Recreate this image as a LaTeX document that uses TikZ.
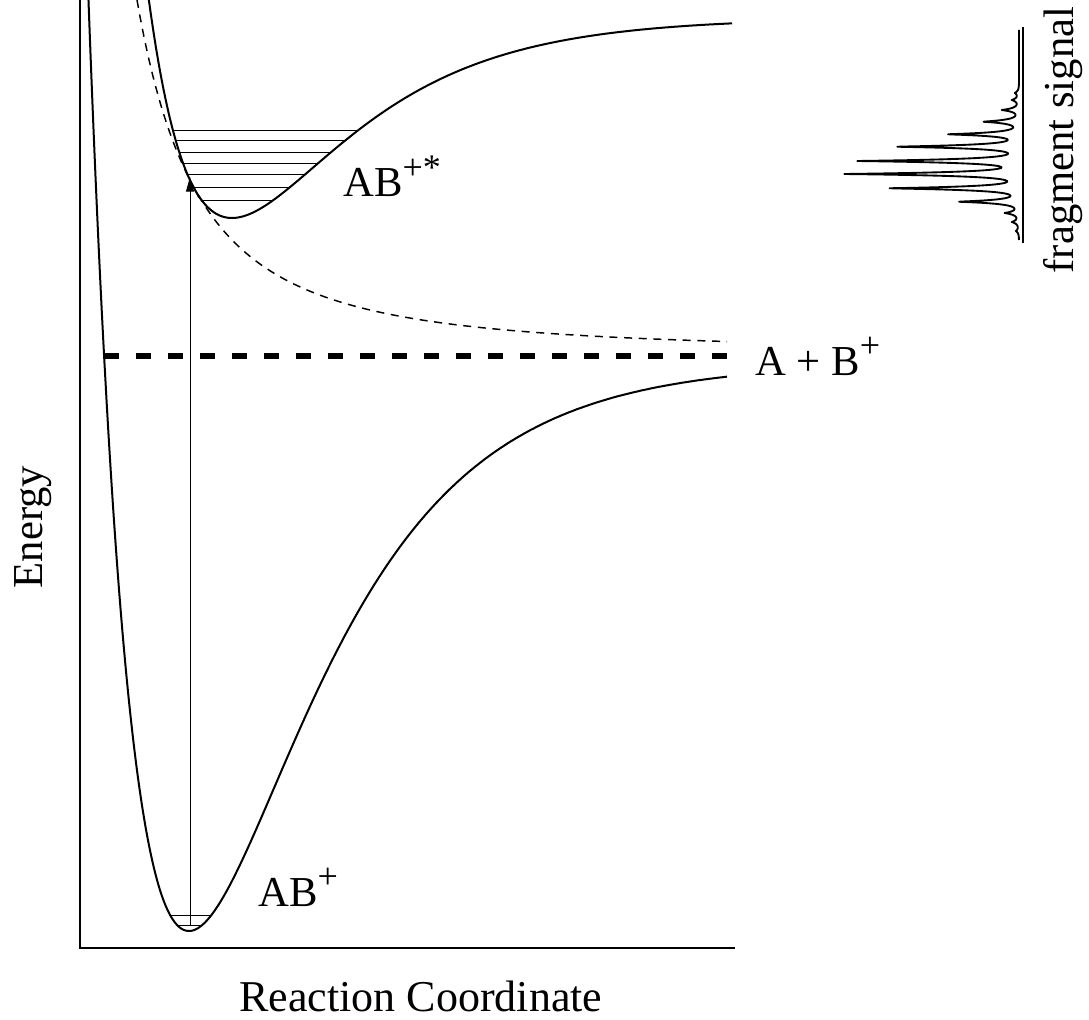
\documentclass[tikz,border=0pt]{standalone}
\usepackage{fontspec}
\setmainfont{Liberation Serif}
\usetikzlibrary{arrows.meta}
\newcommand{\supx}[1]{\raisebox{0.40em}{\fontsize{27}{27}\selectfont #1}}
\begin{document}
\begin{tikzpicture}[x=0.75pt,y=-0.75pt,
  axisline/.style={line width=2.2pt},
  curve/.style={line width=1.5pt},
  level/.style={line width=0.7pt},
  limitline/.style={line width=4.5pt, dash pattern=on 11.25pt off 12.75pt},
  repulsive/.style={line width=1.1pt, dash pattern=on 6pt off 5pt},
  excite/.style={line width=0.7pt, -{Triangle[length=11pt,width=6pt]}},
  trace/.style={line width=1.4pt, line join=round},
  lbl/.style={font=\fontsize{32}{38}\selectfont, inner sep=0pt},
  declare function={L(\t,\c)=exp(-min(40,abs(\t-\c))/2.2);}
]
\useasboundingbox (0,0) rectangle (1089,1020);

% axes
\coordinate (ytop) at (80,0);
\coordinate (origin) at (80,948);
\coordinate (xend) at (735,948);
\draw[axisline] (ytop) -- (origin) -- (xend);

% lower (bound) potential AB+
\draw[curve] plot[domain=0:880, samples=160] ({189 - ln(1+sqrt((931-\x)/568))/0.0082}, \x)
  -- plot[domain=157.05:727, samples=260] (\x, {931-568*(1-exp(-0.0082*(\x-189)))^2});

% upper (excited) potential AB+*
\draw[curve] plot[domain=0:190, samples=80] ({232 - ln(1+sqrt((218-\x)/200))/0.0086}, \x)
  -- plot[domain=195.03:732, samples=260] (\x, {218-200*(1-exp(-0.0086*(\x-232)))^2});

% repulsive state
\draw[repulsive] plot[domain=137:727, samples=200] (\x, {352-352*((123)/(\x-14))^2});

% dissociation limit
\coordinate (limA) at (104,356);
\coordinate (limB) at (727,356);
\draw[limitline] (limA) -- (limB);

% vibrational levels, upper well
\foreach \yv in {130,140.7,152,163.3,174.7,187.7,200} {
  \pgfmathsetmacro\s{sqrt((218-\yv)/200)}
  \pgfmathsetmacro\xl{232-ln(1+\s)/0.0086}
  \pgfmathsetmacro\xr{232-ln(1-\s)/0.0086}
  \draw[level] (\xl,\yv) -- (\xr,\yv);
}
% vibrational levels, lower well
\foreach \yv in {915,925} {
  \pgfmathsetmacro\s{sqrt((931-\yv)/568)}
  \pgfmathsetmacro\xl{189-ln(1+\s)/0.0082}
  \pgfmathsetmacro\xr{189-ln(1-\s)/0.0082}
  \draw[level] (\xl,\yv) -- (\xr,\yv);
}

% excitation arrow
\coordinate (exbase) at (190,926);
\coordinate (extip) at (190,177);
\draw[excite] (exbase) -- (extip);

% fragment signal spectrum
\draw[line width=1.3pt] (1023,27) -- (1023,243);
\draw[trace] plot[domain=30:240, samples=841]
  ({1019 - (4*L(\x,93)+7*L(\x,100)+17*L(\x,110)+36*L(\x,121.7)+72*L(\x,134.3)+124*L(\x,146.7)+161*L(\x,161)+174*L(\x,174)+132*L(\x,188.3)+61*L(\x,201.7)+14*L(\x,213)+7*L(\x,222)+3*L(\x,231))}, \x);

% labels
\node[lbl, anchor=base west] (abstar) at (343,197) {AB\supx{+*}};
\node[lbl, anchor=base west] (ab) at (258,906) {AB\supx{+}};
\node[lbl, anchor=base west] (limit) at (755,375) {A + B\supx{+}};
\node[lbl, rotate=90, anchor=base] (energy) at (42,527) {Energy};
\node[lbl, font=\fontsize{33}{40}\selectfont, anchor=base] (rc) at (421,1011) {Reaction Coordinate};
\node[lbl, rotate=90, anchor=base] (frag) at (1073,140) {fragment signal};
\end{tikzpicture}
\end{document}
